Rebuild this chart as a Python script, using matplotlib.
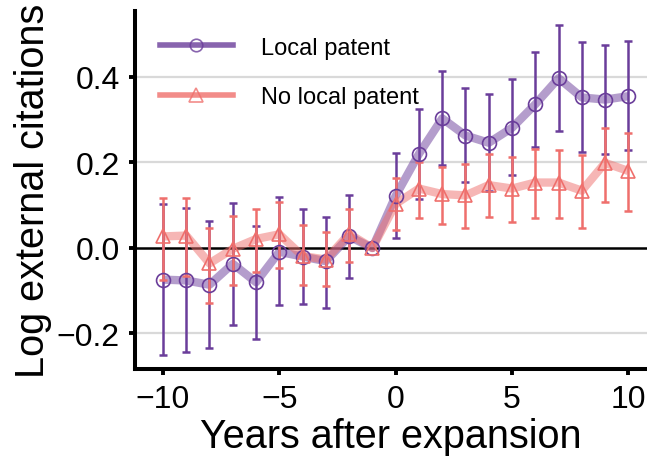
import matplotlib
matplotlib.use("Agg")
import matplotlib.pyplot as plt
from matplotlib.lines import Line2D
import numpy as np

plt.rcParams['font.family'] = ['Liberation Sans', 'DejaVu Sans']

years = [-10, -9, -8, -7, -6, -5, -4, -3, -2, -1, 0, 1, 2, 3, 4, 5, 6, 7, 8, 9, 10]

# Local patent: point estimate and CI bounds
local = [-0.074, -0.076, -0.086, -0.037, -0.080, -0.009, -0.020, -0.031, 0.027, 0.0,
         0.122, 0.220, 0.303, 0.263, 0.246, 0.281, 0.336, 0.397, 0.352, 0.347, 0.355]
local_hi = [0.103, 0.093, 0.062, 0.105, 0.052, 0.119, 0.090, 0.073, 0.125, 0.0,
            0.221, 0.325, 0.414, 0.374, 0.359, 0.394, 0.458, 0.522, 0.481, 0.475, 0.483]
local_lo = [-0.250, -0.244, -0.234, -0.179, -0.213, -0.133, -0.132, -0.140, -0.071, 0.0,
            0.024, 0.115, 0.195, 0.154, 0.133, 0.171, 0.235, 0.273, 0.224, 0.220, 0.228]

# No local patent
nolocal = [0.027, 0.029, -0.036, -0.002, 0.021, 0.032, -0.019, -0.027, 0.033, 0.0,
           0.103, 0.139, 0.126, 0.123, 0.147, 0.139, 0.153, 0.153, 0.134, 0.199, 0.180]
nolocal_hi = [0.117, 0.117, 0.046, 0.075, 0.090, 0.107, 0.054, 0.037, 0.090, 0.0,
              0.164, 0.202, 0.189, 0.196, 0.219, 0.213, 0.232, 0.228, 0.218, 0.281, 0.270]
nolocal_lo = [-0.076, -0.066, -0.129, -0.087, -0.057, -0.046, -0.086, -0.088, -0.032, 0.0,
              0.041, 0.070, 0.055, 0.046, 0.073, 0.060, 0.070, 0.071, 0.047, 0.107, 0.086]

purple = "#6a3d9a"
red = "#ef6f6c"

fig = plt.figure(figsize=(6.47, 4.64), dpi=100)
ax = fig.add_axes([0.2087, 0.2026, 0.7913, 0.7714])

for v in [-0.2, 0.2, 0.4]:
    ax.axhline(v, color="#d9d9d9", lw=1.6, zorder=0)
ax.axhline(0, color="black", lw=1.8, zorder=1)


def draw(y, lo, hi, color, marker):
    y = np.array(y)
    err = np.array([y - np.array(lo), np.array(hi) - y])
    x = np.array(years)
    mask = x != -1
    ax.errorbar(x[mask], y[mask], yerr=err[:, mask], fmt="none", ecolor=color,
                elinewidth=1.8, capsize=3.2, capthick=1.8, zorder=3)
    ax.plot(x, y, color=color, lw=6, alpha=0.5, solid_capstyle="butt", zorder=2)
    ax.plot(x, y, ls="none", marker=marker, ms=10, mfc="none", mec=color, mew=1.2, zorder=4)


draw(local, local_lo, local_hi, purple, "o")
draw(nolocal, nolocal_lo, nolocal_hi, red, "^")

h1 = Line2D([], [], color=purple, lw=4, alpha=0.8, marker="o", ms=9, mfc="none", mec=purple, mew=1.2)
h2 = Line2D([], [], color=red, lw=4, alpha=0.8, marker="^", ms=10, mfc="none", mec=red, mew=1.2)
ax.legend([h1, h2], ["Local patent", "No local patent"], loc="upper left", frameon=False,
          fontsize=17, handlelength=3.1, labelspacing=1.15, handletextpad=1.2,
          borderaxespad=0.0, bbox_to_anchor=(0.03, 0.955))

ax.set_xlim(-11.2, 10.8)
ax.set_ylim(-0.283, 0.554)
ax.set_xticks([-10, -5, 0, 5, 10])
ax.set_yticks([-0.2, 0.0, 0.2, 0.4])
ax.set_yticklabels(["\u22120.2", "0.0", "0.2", "0.4"])
ax.set_xticklabels(["\u221210", "\u22125", "0", "5", "10"])
ax.tick_params(labelsize=23, width=2.8, length=4, color="black", pad=7)
for s in ["top", "right"]:
    ax.spines[s].set_visible(False)
for s in ["left", "bottom"]:
    ax.spines[s].set_linewidth(2.9)

ax.set_xlabel("Years after expansion", fontsize=28.5, labelpad=2)
ax.set_ylabel("Log external citations", fontsize=28.5, labelpad=3)

fig.savefig("out.png", dpi=100)
